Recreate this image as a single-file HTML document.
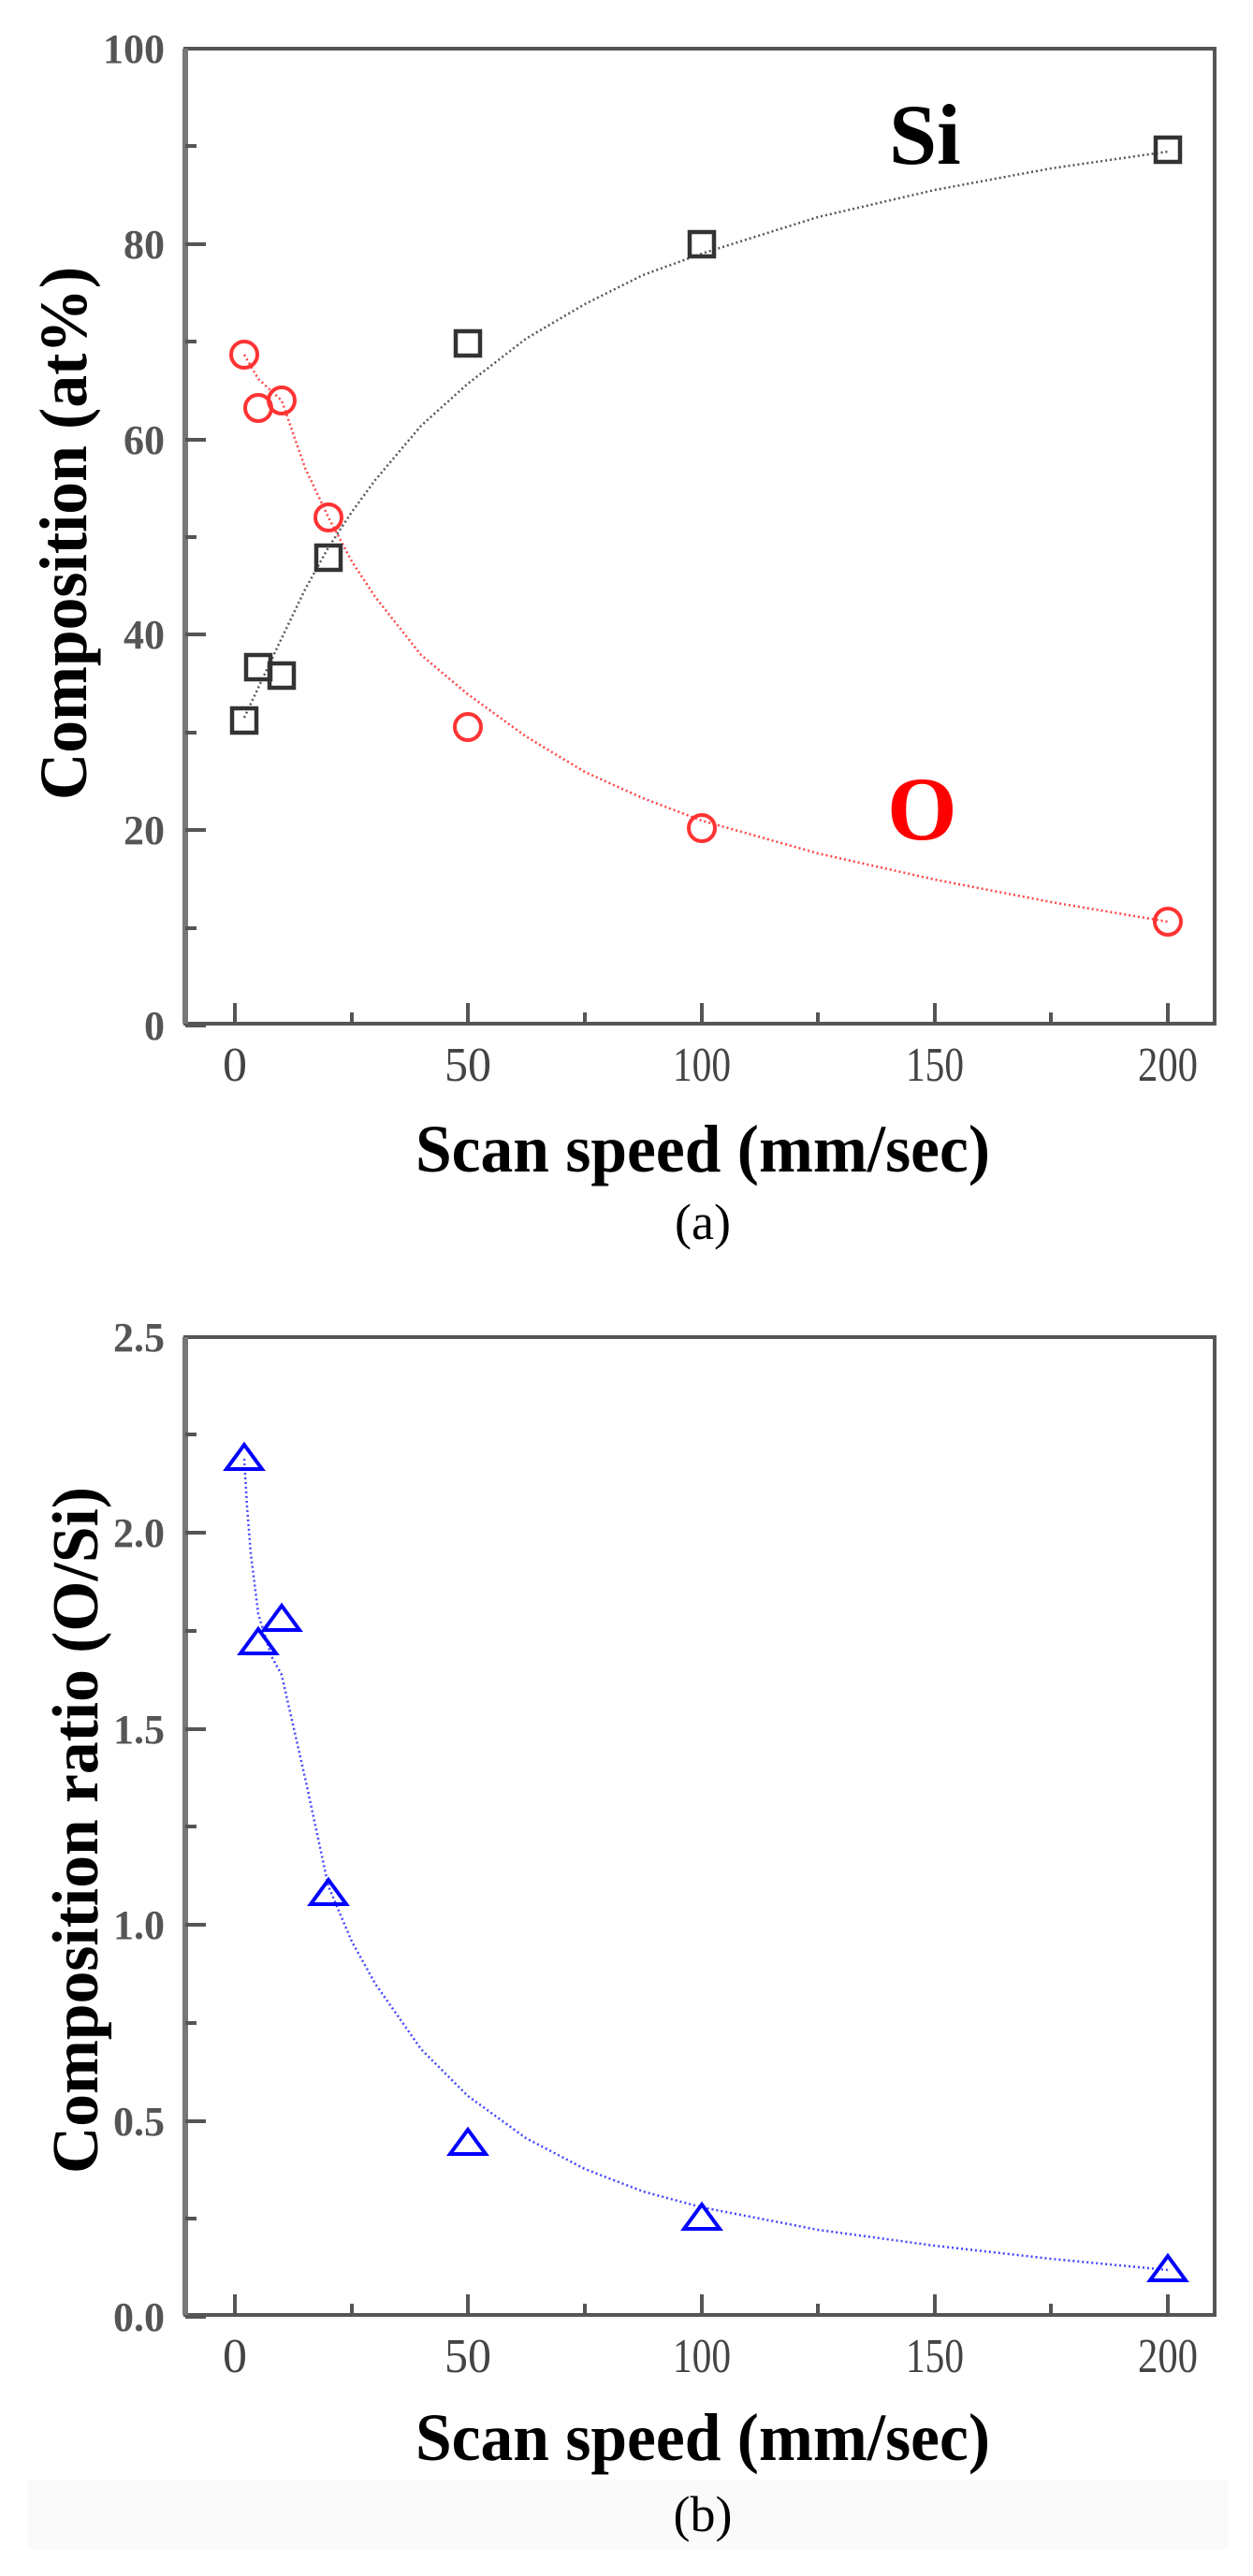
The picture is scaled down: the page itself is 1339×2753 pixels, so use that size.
<!DOCTYPE html>
<html><head><meta charset="utf-8"><style>
html,body{margin:0;padding:0;background:#fff}
svg{display:block}
text{font-family:"Liberation Serif",serif}
</style></head><body>
<svg width="1339" height="2753" viewBox="0 0 1339 2753" xmlns="http://www.w3.org/2000/svg">
<rect x="30" y="2650" width="1283" height="75" fill="#fafafa"/>
<!-- ===== Panel A ===== -->
<rect x="198" y="52" width="1100" height="1042" fill="none" stroke="#555" stroke-width="4"/>
<g stroke="#555" stroke-width="4">
<line x1="198" y1="52" x2="198" y2="1094" stroke-width="6" stroke="#777"/>
<line x1="198" y1="1096" x2="220" y2="1096"/><line x1="198" y1="992" x2="210" y2="992"/>
<line x1="198" y1="887" x2="220" y2="887"/><line x1="198" y1="783" x2="210" y2="783"/>
<line x1="198" y1="678" x2="220" y2="678"/><line x1="198" y1="574" x2="210" y2="574"/>
<line x1="198" y1="470" x2="220" y2="470"/><line x1="198" y1="365" x2="210" y2="365"/>
<line x1="198" y1="261" x2="220" y2="261"/><line x1="198" y1="156" x2="210" y2="156"/>
<line x1="251" y1="1094" x2="251" y2="1072"/><line x1="376" y1="1094" x2="376" y2="1082"/>
<line x1="500" y1="1094" x2="500" y2="1072"/><line x1="625" y1="1094" x2="625" y2="1082"/>
<line x1="750" y1="1094" x2="750" y2="1072"/><line x1="874" y1="1094" x2="874" y2="1082"/>
<line x1="999" y1="1094" x2="999" y2="1072"/><line x1="1123" y1="1094" x2="1123" y2="1082"/>
<line x1="1248" y1="1094" x2="1248" y2="1072"/>
</g>
<g font-size="44" font-weight="bold" fill="#555" text-anchor="end">
<text x="176" y="67">100</text><text x="176" y="276">80</text><text x="176" y="485">60</text>
<text x="176" y="693">40</text><text x="176" y="902">20</text><text x="176" y="1111">0</text>
</g>
<g font-size="52" fill="#444" text-anchor="middle">
<text x="251" y="1155">0</text><text x="500" y="1155" textLength="50" lengthAdjust="spacingAndGlyphs">50</text>
<text x="750" y="1155" textLength="62" lengthAdjust="spacingAndGlyphs">100</text>
<text x="999" y="1155" textLength="62" lengthAdjust="spacingAndGlyphs">150</text>
<text x="1248" y="1155" textLength="64" lengthAdjust="spacingAndGlyphs">200</text>
</g>
<text x="751" y="1252" font-size="72" font-weight="bold" text-anchor="middle" textLength="614" lengthAdjust="spacingAndGlyphs">Scan speed (mm/sec)</text>
<text x="751" y="1324" font-size="54" text-anchor="middle">(a)</text>
<text transform="translate(92,570) rotate(-90)" font-size="72" font-weight="bold" text-anchor="middle" textLength="570" lengthAdjust="spacingAndGlyphs">Composition (at%)</text>
<text x="950" y="175" font-size="92" font-weight="bold" fill="#000">Si</text>
<text x="948" y="897" font-size="96" font-weight="bold" fill="#f00">O</text>
<polyline fill="none" stroke="#555" stroke-width="2.5" stroke-dasharray="2 3"
 points="261,767 276,735 301,682 326,630 351,585 376,547 401,513 450,455 500,410 562,362 625,325 687,294 750,271 874,232 999,203 1123,180 1248,162"/>
<polyline fill="none" stroke="#f44" stroke-width="2.5" stroke-dasharray="2 3"
 points="261,379 276,405 301,428 326,500 351,553 376,600 401,638 450,700 500,742 562,787 625,825 687,853 750,877 874,912 999,940 1123,964 1248,985"/>
<g fill="none" stroke="#333" stroke-width="4.5">
<rect x="248" y="757" width="26" height="26"/><rect x="263" y="700" width="26" height="26"/>
<rect x="288" y="709" width="26" height="26"/><rect x="338" y="583" width="26" height="26"/>
<rect x="487" y="354" width="26" height="26"/><rect x="737" y="248" width="26" height="26"/>
<rect x="1235" y="147" width="26" height="26"/>
</g>
<g fill="none" stroke="#f33" stroke-width="4">
<circle cx="261" cy="379" r="14"/><circle cx="276" cy="436" r="14"/><circle cx="301" cy="428" r="14"/>
<circle cx="351" cy="553" r="14"/><circle cx="500" cy="777" r="14"/><circle cx="750" cy="885" r="14"/>
<circle cx="1248" cy="985" r="14"/>
</g>
<!-- ===== Panel B ===== -->
<rect x="198" y="1429" width="1100" height="1045" fill="none" stroke="#555" stroke-width="4"/>
<g stroke="#555" stroke-width="4">
<line x1="198" y1="1429" x2="198" y2="2474" stroke-width="6" stroke="#777"/>
<line x1="198" y1="2476" x2="220" y2="2476"/><line x1="198" y1="2371" x2="210" y2="2371"/>
<line x1="198" y1="2267" x2="220" y2="2267"/><line x1="198" y1="2162" x2="210" y2="2162"/>
<line x1="198" y1="2057" x2="220" y2="2057"/><line x1="198" y1="1952" x2="210" y2="1952"/>
<line x1="198" y1="1848" x2="220" y2="1848"/><line x1="198" y1="1743" x2="210" y2="1743"/>
<line x1="198" y1="1638" x2="220" y2="1638"/><line x1="198" y1="1533" x2="210" y2="1533"/>
<line x1="251" y1="2474" x2="251" y2="2452"/><line x1="376" y1="2474" x2="376" y2="2462"/>
<line x1="500" y1="2474" x2="500" y2="2452"/><line x1="625" y1="2474" x2="625" y2="2462"/>
<line x1="750" y1="2474" x2="750" y2="2452"/><line x1="874" y1="2474" x2="874" y2="2462"/>
<line x1="999" y1="2474" x2="999" y2="2452"/><line x1="1123" y1="2474" x2="1123" y2="2462"/>
<line x1="1248" y1="2474" x2="1248" y2="2452"/>
</g>
<g font-size="44" font-weight="bold" fill="#555" text-anchor="end">
<text x="176" y="1444">2.5</text><text x="176" y="1653">2.0</text><text x="176" y="1863">1.5</text>
<text x="176" y="2072">1.0</text><text x="176" y="2282">0.5</text><text x="176" y="2491">0.0</text>
</g>
<g font-size="52" fill="#444" text-anchor="middle">
<text x="251" y="2535">0</text><text x="500" y="2535" textLength="50" lengthAdjust="spacingAndGlyphs">50</text>
<text x="750" y="2535" textLength="62" lengthAdjust="spacingAndGlyphs">100</text>
<text x="999" y="2535" textLength="62" lengthAdjust="spacingAndGlyphs">150</text>
<text x="1248" y="2535" textLength="64" lengthAdjust="spacingAndGlyphs">200</text>
</g>
<text x="751" y="2629" font-size="72" font-weight="bold" text-anchor="middle" textLength="614" lengthAdjust="spacingAndGlyphs">Scan speed (mm/sec)</text>
<text x="751" y="2705" font-size="54" text-anchor="middle">(b)</text>
<text transform="translate(104,1956) rotate(-90)" font-size="70" font-weight="bold" text-anchor="middle" textLength="734" lengthAdjust="spacingAndGlyphs">Composition ratio (O/Si)</text>
<polyline fill="none" stroke="#44f" stroke-width="2.5" stroke-dasharray="2 3"
 points="261,1559 264,1610 268,1660 276,1725 290,1770 301,1790 326,1900 351,2016 376,2075 401,2120 450,2190 500,2240 562,2285 625,2318 687,2342 750,2359 874,2383 999,2400 1123,2414 1248,2426"/>
<g fill="none" stroke="#00f" stroke-width="4">
<polygon points="261,1544 280,1570 242,1570"/><polygon points="276,1741 295,1767 257,1767"/>
<polygon points="301,1716 320,1742 282,1742"/><polygon points="351,2009 370,2035 332,2035"/>
<polygon points="500,2276 519,2302 481,2302"/><polygon points="750,2356 769,2382 731,2382"/>
<polygon points="1248,2411 1267,2437 1229,2437"/>
</g>
</svg>
</body></html>
